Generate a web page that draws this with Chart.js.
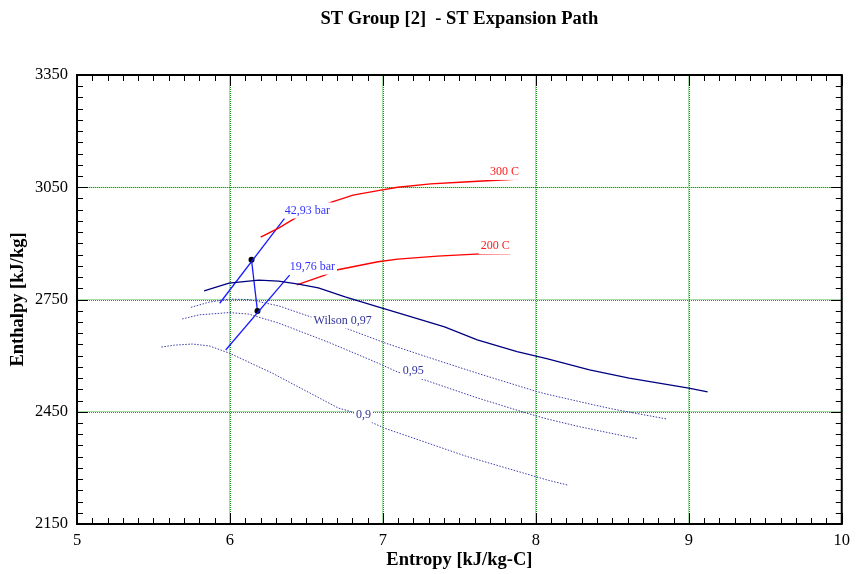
<!DOCTYPE html>
<html>
<head>
<meta charset="utf-8">
<script src="https://cdn.jsdelivr.net/npm/chart.js@4.4.1/dist/chart.umd.min.js"></script>
<style>
  html, body { margin: 0; padding: 0; background: #ffffff; }
  #c { display: block; }
</style>
</head>
<body>
<canvas id="c" width="857" height="574"></canvas>
<script>
// ---------- data (entropy s [kJ/kg-C], enthalpy h [kJ/kg]) ----------
const xTickLabels = ['5', '6', '7', '8', '9', '10'];
const yTickLabels = ['2150', '2450', '2750', '3050', '3350'];

// saturated vapour line (solid navy)
const satS = [5.831, 5.994, 6.188, 6.318, 6.448, 6.578, 6.753, 6.968, 7.143, 7.403, 7.617, 7.877, 8.071, 8.351, 8.610, 9.000, 9.123];
const satH = [2773, 2794, 2802, 2799, 2791, 2781, 2757, 2730, 2709, 2677, 2642, 2611, 2592, 2562, 2540, 2513, 2503];

// Wilson line 0,97 (dotted)
const w97S = [5.745, 5.864, 5.994, 6.123, 6.318, 6.532, 6.753, 7.013, 7.292, 7.617, 8.006, 8.071, 8.383, 8.506, 8.851];
const w97H = [2729, 2743, 2751, 2750, 2733, 2703, 2674, 2634, 2596, 2553, 2504, 2497, 2468, 2457, 2431];

// Wilson line 0,95 (dotted)
const w95S = [5.688, 5.799, 5.994, 6.123, 6.318, 6.643, 6.968, 7.097, 7.273, 7.617, 7.942, 8.071, 8.286, 8.662];
const w95H = [2698, 2709, 2715, 2711, 2687, 2636, 2580, 2556, 2535, 2487, 2446, 2431, 2410, 2378];

// Wilson line 0,9 (dotted)
const w90S = [5.552, 5.636, 5.753, 5.864, 5.994, 6.273, 6.708, 6.794, 6.892, 7.011, 7.552, 8.071, 8.208];
const w90H = [2623, 2628, 2631, 2626, 2607, 2554, 2460, 2450, 2428, 2406, 2330, 2268, 2254];

// isotherms (red)
const t300S = [6.201, 6.318, 6.429, 6.654, 6.805, 6.968, 7.097, 7.312, 7.532, 7.890];
const t300H = [2917, 2941, 2968, 3009, 3029, 3041, 3050, 3059, 3064, 3072];
const t200S = [6.437, 6.621, 6.697, 6.968, 7.097, 7.357, 7.636, 7.833];
const t200H = [2789, 2815, 2829, 2851, 2858, 2866, 2872, 2873];

// isobars (blue)
const p4293S = [5.933, 6.357];
const p4293H = [2740, 2967];
const p1976S = [5.972, 6.390];
const p1976H = [2615, 2815];

// expansion path (inlet -> outlet)
const pathS = [6.141, 6.180];
const pathH = [2856, 2719];

// curve labels (placed at data coordinates)
const labelText = ['42,93 bar', '19,76 bar', '300 C', '200 C', 'Wilson 0,97', '0,95', '0,9'];
const labelS = [6.506, 6.539, 7.795, 7.734, 6.737, 7.198, 6.873];
const labelH = [2988, 2838, 3091, 2893, 2694, 2559, 2443];

// ---------- helpers ----------
function pts(xs, ys) { return xs.map((x, i) => ({ x: x, y: ys[i] })); }

const labelColors = ['#3333ff', '#3333ff', '#ff1a1a', '#ff1a1a', '#333399', '#333399', '#333399'];
const SERIF = "'Liberation Serif', 'DejaVu Serif', serif";
const gridLight = '#a6dca6';
const gridDark = '#1e961e';

// dark green dots over the light green grid lines (same tick positions as the scales)
const gridDotsPlugin = {
  id: 'gridDots',
  beforeDatasetsDraw(chart) {
    const ctx = chart.ctx;
    const a = chart.chartArea;
    const xs = chart.scales.x, ys = chart.scales.y;
    ctx.save();
    ctx.strokeStyle = gridDark;
    ctx.lineWidth = 1;
    ctx.setLineDash([1, 1]);
    ctx.beginPath();
    xs.ticks.forEach(t => {
      if (t.value > xs.min && t.value < xs.max) {
        const px = Math.round(xs.getPixelForValue(t.value)) + 0.5;
        ctx.moveTo(px, a.top); ctx.lineTo(px, a.bottom);
      }
    });
    ys.ticks.forEach(t => {
      if (t.value > ys.min && t.value < ys.max) {
        const py = Math.round(ys.getPixelForValue(t.value)) + 0.5;
        ctx.moveTo(a.left, py); ctx.lineTo(a.right, py);
      }
    });
    ctx.stroke();
    ctx.restore();
  }
};

const curveLabelsPlugin = {
  id: 'curveLabels',
  afterDatasetsDraw(chart) {
    const ctx = chart.ctx;
    const xs = chart.scales.x, ys = chart.scales.y;
    ctx.save();
    ctx.font = '12px ' + SERIF;
    ctx.textAlign = 'center';
    ctx.textBaseline = 'middle';
    labelText.forEach((t, i) => {
      const px = xs.getPixelForValue(labelS[i]);
      const py = ys.getPixelForValue(labelH[i]);
      const w = ctx.measureText(t).width;
      ctx.fillStyle = '#ffffff';
      ctx.fillRect(px - w / 2 - 2, py - 8, w + 4, 16);
      ctx.fillStyle = labelColors[i];
      ctx.fillText(t, px, py);
    });
    ctx.restore();
  }
};

const frameTicksPlugin = {
  id: 'frameTicks',
  afterDraw(chart) {
    const ctx = chart.ctx;
    const a = chart.chartArea;
    const xs = chart.scales.x, ys = chart.scales.y;
    ctx.save();
    ctx.strokeStyle = '#000000';
    ctx.lineWidth = 1;
    ctx.beginPath();
    // x ticks every 0.1, major at integers
    for (let i = 0; i <= 50; i++) {
      const px = Math.round(xs.getPixelForValue(xs.min + i * 0.1)) + 0.5;
      const len = (i % 10 === 0) ? 11 : 6;
      ctx.moveTo(px, a.bottom); ctx.lineTo(px, a.bottom - len);
      ctx.moveTo(px, a.top); ctx.lineTo(px, a.top + len);
    }
    // y ticks every 30, major every 300
    for (let j = 0; j <= 40; j++) {
      const py = Math.round(ys.getPixelForValue(ys.min + j * 30)) + 0.5;
      const len = (j % 10 === 0) ? 11 : 6;
      ctx.moveTo(a.left, py); ctx.lineTo(a.left + len, py);
      ctx.moveTo(a.right, py); ctx.lineTo(a.right - len, py);
    }
    ctx.stroke();
    ctx.lineWidth = 2;
    ctx.strokeRect(a.left, a.top, a.right - a.left, a.bottom - a.top);
    ctx.restore();
  }
};

const lineDs = (data, color, width, dash) => ({
  data: data,
  showLine: true,
  borderColor: color,
  backgroundColor: color,
  borderWidth: width,
  borderDash: dash || [],
  pointRadius: 0,
  tension: 0,
  fill: false
});

new Chart(document.getElementById('c'), {
  type: 'scatter',
  data: {
    datasets: [
      lineDs(pts(satS, satH), '#000080', 1.3),
      lineDs(pts(w97S, w97H), '#3c3ca8', 1, [1.5, 1.5]),
      lineDs(pts(w95S, w95H), '#3c3ca8', 1, [1.5, 1.5]),
      lineDs(pts(w90S, w90H), '#3c3ca8', 1, [1.5, 1.5]),
      lineDs(pts(t300S, t300H), '#ff0000', 1.4),
      lineDs(pts(t200S, t200H), '#ff0000', 1.4),
      lineDs(pts(p4293S, p4293H), '#1a1aff', 1.3),
      lineDs(pts(p1976S, p1976H), '#1a1aff', 1.3),
      Object.assign(lineDs(pts(pathS, pathH), '#1a1aff', 1.3), {
        pointRadius: 3, pointBackgroundColor: '#000000', pointBorderColor: '#000000', pointBorderWidth: 0
      })
    ]
  },
  options: {
    responsive: false,
    animation: false,
    devicePixelRatio: 1,
    events: [],
    layout: { padding: { left: 0, right: 10, top: 0, bottom: 0 } },
    plugins: {
      legend: { display: false },
      tooltip: { enabled: false },
      title: {
        display: true,
        fullSize: false,
        text: 'ST Group [2]  - ST Expansion Path',
        color: '#000000',
        font: { family: SERIF, size: 18.5, weight: 'bold' },
        padding: { top: 8, bottom: 44.8 }
      }
    },
    scales: {
      x: {
        type: 'linear',
        min: 5, max: 10,
        afterFit: (s) => { s.height = 50; },
        ticks: {
          stepSize: 1,
          padding: 7,
          color: '#000000',
          font: { family: SERIF, size: 16.5 },
          maxRotation: 0,
          callback: (v) => xTickLabels[Math.round(v - 5)] || ''
        },
        grid: {
          drawTicks: false,
          lineWidth: 1,
          color: (c) => (c.tick && c.tick.value > 5 && c.tick.value < 10) ? gridLight : 'rgba(0,0,0,0)'
        },
        border: { display: false },
        title: {
          display: true,
          text: 'Entropy [kJ/kg-C]',
          color: '#000000',
          font: { family: SERIF, size: 18.5, weight: 'bold' },
          padding: { top: 0, bottom: 3 }
        }
      },
      y: {
        type: 'linear',
        min: 2150, max: 3350,
        afterFit: (s) => { s.width = 77; },
        ticks: {
          stepSize: 300,
          padding: 9,
          color: '#000000',
          font: { family: SERIF, size: 16.5 },
          callback: (v) => yTickLabels[Math.round((v - 2150) / 300)] || ''
        },
        grid: {
          drawTicks: false,
          lineWidth: 1,
          color: (c) => (c.tick && c.tick.value > 2150 && c.tick.value < 3350) ? gridLight : 'rgba(0,0,0,0)'
        },
        border: { display: false },
        title: {
          display: true,
          text: 'Enthalpy [kJ/kg]',
          color: '#000000',
          font: { family: SERIF, size: 18.5, weight: 'bold' },
          padding: { top: 7, bottom: 0 }
        }
      }
    }
  },
  plugins: [gridDotsPlugin, curveLabelsPlugin, frameTicksPlugin]
});
</script>
</body>
</html>
